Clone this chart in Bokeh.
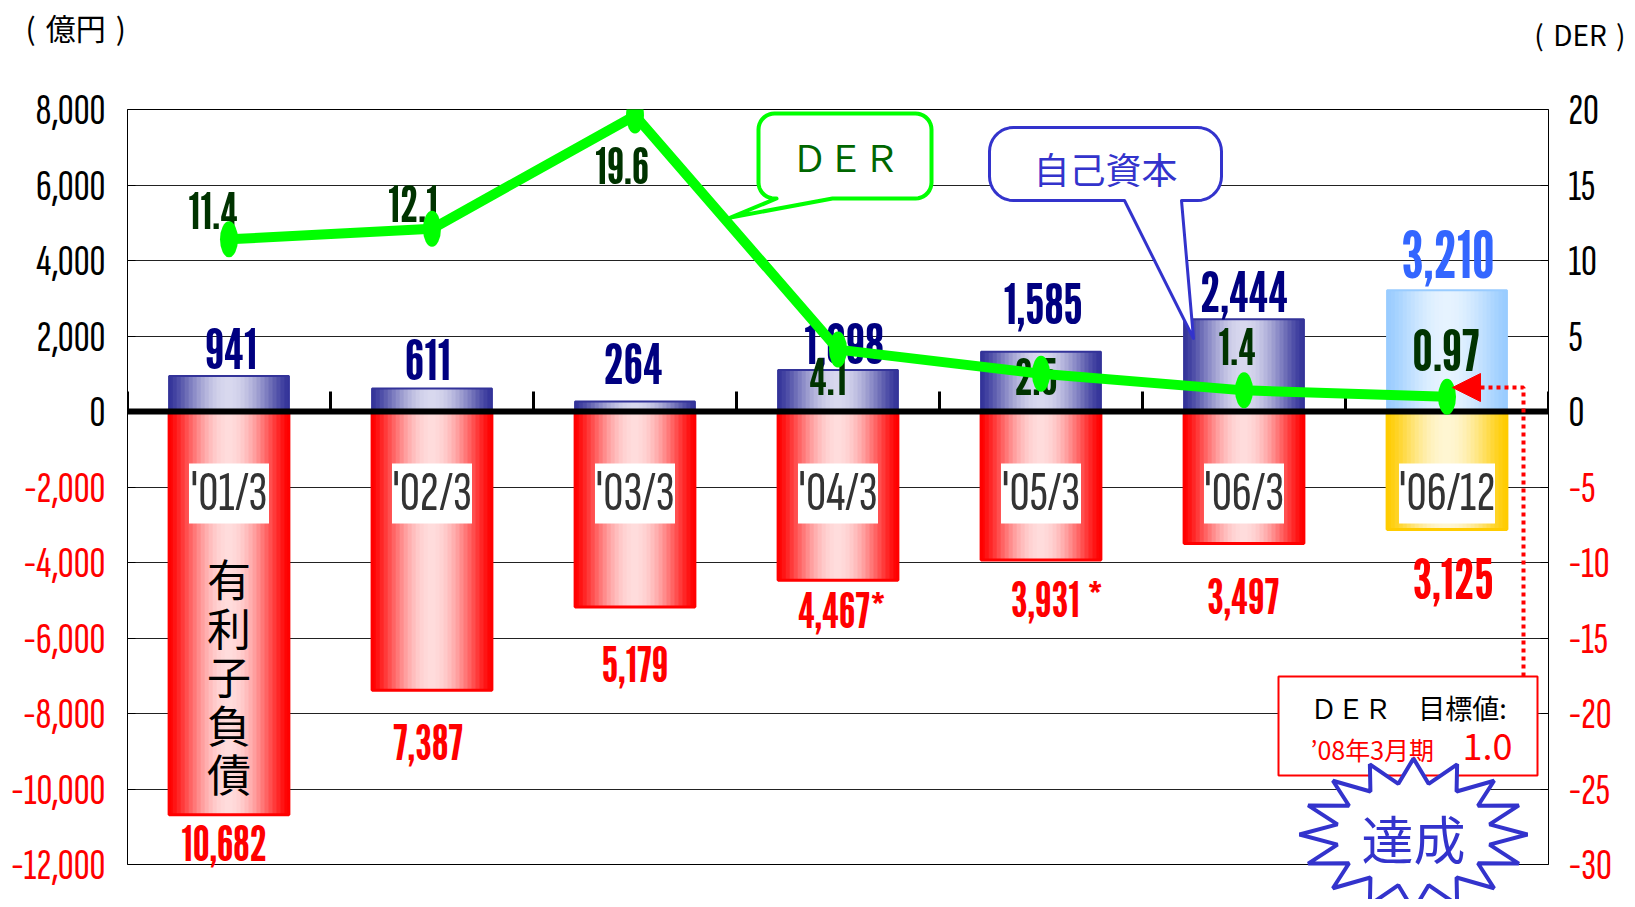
import numpy as np
from bokeh.plotting import figure
from bokeh.models import (Range1d, LinearAxis, FixedTicker, NumeralTickFormatter)
from bokeh.core.properties import value
from bokeh.embed import file_html
from bokeh.resources import INLINE

# ---------------- data ----------------
categories = ["'01/3", "'02/3", "'03/3", "'04/3", "'05/3", "'06/3", "'06/12"]
equity = [941, 611, 264, 1098, 1585, 2444, 3210]          # 自己資本 (億円)
debt = [10682, 7387, 5179, 4467, 3931, 3497, 3125]        # 有利子負債 (億円)
der = [11.4, 12.1, 19.6, 4.1, 2.5, 1.4, 0.97]              # DER
debt_notes = ["", "", "", "*", " *", "", ""]
left_ticks = [-12000, -10000, -8000, -6000, -4000, -2000, 0, 2000, 4000, 6000, 8000]
right_ticks = [-30, -25, -20, -15, -10, -5, 0, 5, 10, 15, 20]

# ---------------- layout / style ----------------
NARROW = "'Sofia Sans Extra Condensed', 'Liberation Sans Narrow', 'Roboto', sans-serif"
HEAVY = "'League Gothic', 'Sofia Sans Extra Condensed', 'Roboto', sans-serif"
CJK = "Noto Sans CJK JP"
W, H = 1627, 899
FL, FR, FT, FB = 127, 1548, 109, 864       # frame edges in pixels
n = len(categories)
y0, y1 = left_ticks[0], left_ticks[-1]


def X(px):
    return (px - FL) / (FR - FL) * n


def Y(py):
    return y1 - (py - FT) / (FB - FT) * (y1 - y0)


def lift(fs):
    # baseline correction for the heavy label font (pixels)
    return round(0.42 * fs)


PX_PER_UNIT = (FB - FT) / (y1 - y0)

p = figure(width=W, height=H, x_range=Range1d(0, n), y_range=Range1d(y0, y1),
           output_backend="svg", toolbar_location=None, x_axis_location=None,
           min_border_left=FL, min_border_right=W - FR,
           min_border_top=FT, min_border_bottom=H - FB)
p.extra_y_ranges = {"der": Range1d(right_ticks[0], right_ticks[-1])}
p.background_fill_color = "white"
p.border_fill_color = "white"
p.outline_line_color = "black"
p.outline_line_width = 1
p.xgrid.visible = False
p.ygrid.ticker = FixedTicker(ticks=left_ticks)
p.ygrid.grid_line_color = "#222222"
p.ygrid.grid_line_width = 1

TICK_FS = "44px"
ya = p.yaxis[0]
ya.ticker = FixedTicker(ticks=left_ticks)
ya.formatter = NumeralTickFormatter(format="0,0")
ya.major_label_overrides = {t: "" for t in left_ticks if t < 0}
ya.axis_line_color = None
ya.major_tick_in = 8
ya.major_tick_out = 0
ya.minor_tick_line_color = None
ya.major_label_standoff = 22
ya.major_label_text_font = NARROW
ya.major_label_text_font_size = TICK_FS
ya.major_label_text_color = "black"

yr = LinearAxis(y_range_name="der", ticker=FixedTicker(ticks=right_ticks))
yr.major_label_overrides = {t: "" for t in right_ticks if t < 0}
yr.axis_line_color = None
yr.major_tick_in = 8
yr.major_tick_out = 0
yr.minor_tick_line_color = None
yr.major_label_standoff = 20
yr.major_label_text_font = NARROW
yr.major_label_text_font_size = TICK_FS
yr.major_label_text_color = "black"
p.add_layout(yr, "right")

# negative tick labels in red, at the axis label positions (overlay level: not clipped)
neg_l = [t for t in left_ticks if t < 0]
p.text(x=[X(FL - 22)] * len(neg_l), y=neg_l, text=[f"{t:,}" for t in neg_l],
       text_align="right", text_baseline="middle", text_color="red",
       text_font=value(NARROW), text_font_size=TICK_FS, level="overlay")
neg_r = [t for t in right_ticks if t < 0]
p.text(x=[X(FR + 20)] * len(neg_r), y=neg_r, y_range_name="der", text=[f"{t}" for t in neg_r],
       text_align="left", text_baseline="middle", text_color="red",
       text_font=value(NARROW), text_font_size=TICK_FS, level="overlay")

# ---------------- gradient bars ----------------
pos_edge = ["#333399"] * 6 + ["#99ccff"]
pos_mid = ["#d8d8ee"] * 6 + ["#e6f3ff"]
neg_edge = ["#ff0000"] * 6 + ["#ffcc00"]
neg_mid = ["#ffdcdc"] * 6 + ["#fff6d2"]


def hex2rgb(h):
    h = h.lstrip("#")
    return np.array([int(h[i:i + 2], 16) for i in (0, 2, 4)], float)


def mix(a, b, f):
    c = hex2rgb(a) * (1 - f) + hex2rgb(b) * f
    return "#%02x%02x%02x" % tuple(int(round(v)) for v in c)


bw = 0.59
NS = 30
tpos = (np.arange(NS) + 0.5) / NS
prof = np.sin(np.pi * tpos) ** 1.3
centers = [i + 0.5 for i in range(n)]

sx, stop, sbot, scol = [], [], [], []
for i in range(n):
    for k in range(NS):
        xx = centers[i] - bw / 2 + (k + 0.5) * bw / NS
        sx += [xx, xx]
        stop += [equity[i], 0]
        sbot += [0, -debt[i]]
        scol += [mix(pos_edge[i], pos_mid[i], prof[k]), mix(neg_edge[i], neg_mid[i], prof[k])]
p.vbar(x=sx, width=bw / NS * 1.2, top=stop, bottom=sbot, fill_color=scol, line_color=None)
p.vbar(x=centers, width=bw, top=equity, bottom=0, fill_color=None,
       line_color=pos_edge, line_width=2)
p.vbar(x=centers, width=bw, top=0, bottom=[-d for d in debt], fill_color=None,
       line_color=neg_edge, line_width=3)

# zero line with category ticks
bounds = list(range(n + 1))
p.segment(x0=0, y0=0, x1=n, y1=0, line_color="black", line_width=6)
p.segment(x0=bounds, y0=[0] * (n + 1), x1=bounds, y1=[20 / PX_PER_UNIT] * (n + 1),
          line_color="black", line_width=3)

# category labels in white boxes
box_y = Y(493)
p.rect(x=centers, y=box_y, width=[16 * len(c) for c in categories], height=60,
       width_units="screen", height_units="screen", fill_color="white", line_color=None)
p.text(x=centers, y=box_y, text=categories, text_font=value(NARROW), text_font_size="56px",
       text_color="#333333", text_align="center", text_baseline="middle")

p.text(x=[centers[0]], y=[Y(675)], text=["有\n利\n子\n負\n債"], text_font=value(CJK),
       text_font_size="44px", text_line_height=0.76, text_color="black",
       text_align="center", text_baseline="middle")

# value labels
eq_fs = [56] * 6 + [64]
eq_gap = [3, 5, 14, 3, 24, 4, 9]
eq_dx = [2, -4, -2, 6, 2, 0, 1]
p.text(x=centers, y=equity, text=[f"{v:,}" for v in equity], x_offset=eq_dx,
       y_offset=[-g - lift(f) for g, f in zip(eq_gap, eq_fs)], text_font=value(HEAVY),
       text_font_size=[f"{f}px" for f in eq_fs], text_color=["#000080"] * 6 + ["#3366ff"],
       text_align="center", text_baseline="alphabetic")

debt_fs = [48] * 6 + [56]
debt_base = [48, 72, 77, 50, 60, 72, 73]
debt_dx = [-5, -4, 0, 4, 16, -1, 6]
p.text(x=centers, y=[-d for d in debt], text=[f"{d:,}{m}" for d, m in zip(debt, debt_notes)],
       x_offset=debt_dx, y_offset=[b - lift(f) for b, f in zip(debt_base, debt_fs)],
       text_font=value(HEAVY), text_font_size=[f"{f}px" for f in debt_fs], text_color="red",
       text_align="center", text_baseline="alphabetic", level="overlay")

der_fs = [50] * 6 + [58]
der_dx = [-16, -19, -13, -10, -5, -7, -1]
der_base = [-8, -4, 71, 48, 24, -23, -23]
p.text(x=centers, y=der, y_range_name="der", text=[str(v) for v in der],
       x_offset=der_dx, y_offset=[b - lift(f) for b, f in zip(der_base, der_fs)],
       text_font=value(HEAVY), text_font_size=[f"{f}px" for f in der_fs], text_color="#003300",
       text_align="center", text_baseline="alphabetic")

# DER line
p.line(x=centers, y=der, y_range_name="der", line_color="#00ff00", line_width=10)
p.ellipse(x=centers, y=der, y_range_name="der", width=18, height=36,
          width_units="screen", height_units="screen", fill_color="#00ff00", line_color=None)


# ---------------- callouts ----------------
def callout(x0, y0_, x1_, y1_, r, tail):
    pts = []

    def arc(cx, cy, a0, a1):
        for a in np.linspace(a0, a1, 10):
            pts.append((cx + r * np.cos(a), cy + r * np.sin(a)))
    arc(x0 + r, y0_ + r, np.pi, 1.5 * np.pi)
    arc(x1_ - r, y0_ + r, 1.5 * np.pi, 2 * np.pi)
    arc(x1_ - r, y1_ - r, 0, 0.5 * np.pi)
    pts += tail
    arc(x0 + r, y1_ - r, 0.5 * np.pi, np.pi)
    return [X(a) for a, b in pts], [Y(b) for a, b in pts]


def note(px, py, txt, size, color, align="center", font=CJK, level="glyph"):
    p.text(x=[X(px)], y=[Y(py)], text=[txt], text_font=value(font), text_font_size=size,
           text_color=color, text_align=align, text_baseline="middle", level=level)


cx_, cy_ = callout(758, 113, 931, 198, 16, [(832, 198), (730, 217), (776, 198)])
p.patch(cx_, cy_, fill_color="white", line_color="#00ff00", line_width=4, line_join="round")
note(845, 155, "ＤＥＲ", "36px", "#006600")

cx_, cy_ = callout(989, 127, 1221, 200, 24, [(1181, 200), (1193, 338), (1124, 200)])
p.patch(cx_, cy_, fill_color="white", line_color="#3333cc", line_width=3, line_join="round")
note(1105, 167, "自己資本", "36px", "#3333cc")

# target box + dotted arrow
p.line(x=[X(1523), X(1523), X(1478)], y=[Y(676), Y(387), Y(387)], line_color="red",
       line_width=4, line_dash="4 4")
p.patch(x=[X(1452), X(1480), X(1480)], y=[Y(387), Y(373), Y(401)], fill_color="red",
        line_color="red")
p.quad(left=X(1278), right=X(1537), top=Y(676), bottom=Y(775), fill_color="white",
       line_color="red", line_width=2)
note(1408, 707, "ＤＥＲ　目標値:", "27px", "black")
note(1310, 748, "’08年3月期", "25px", "red", align="left")
note(1462, 746, "1.0", "36px", "red", align="left")

# starburst 達成 (overlay level so that it may pass the frame edge)
ang = np.linspace(0, 2 * np.pi, 33)[:-1]
rr = np.where(np.arange(32) % 2 == 0, 1.0, 0.68)
spx = 1413 + 114 * rr * np.cos(ang)
spy = 834 - 76 * rr * np.sin(ang)
p.patch([X(v) for v in spx], [Y(v) for v in spy], fill_color="white", line_color="#3333cc",
        line_width=4, level="overlay")
note(1413, 837, "達成", "52px", "#3333cc", level="overlay")

# unit labels
note(25, 26, "(\u2004億円\u2004)", "30px", "black", align="left", level="overlay")
note(1625, 33, "(\u2004DER\u2004)", "28px", "black", align="right", level="overlay")

open("out.html", "w").write(file_html(p, INLINE))
